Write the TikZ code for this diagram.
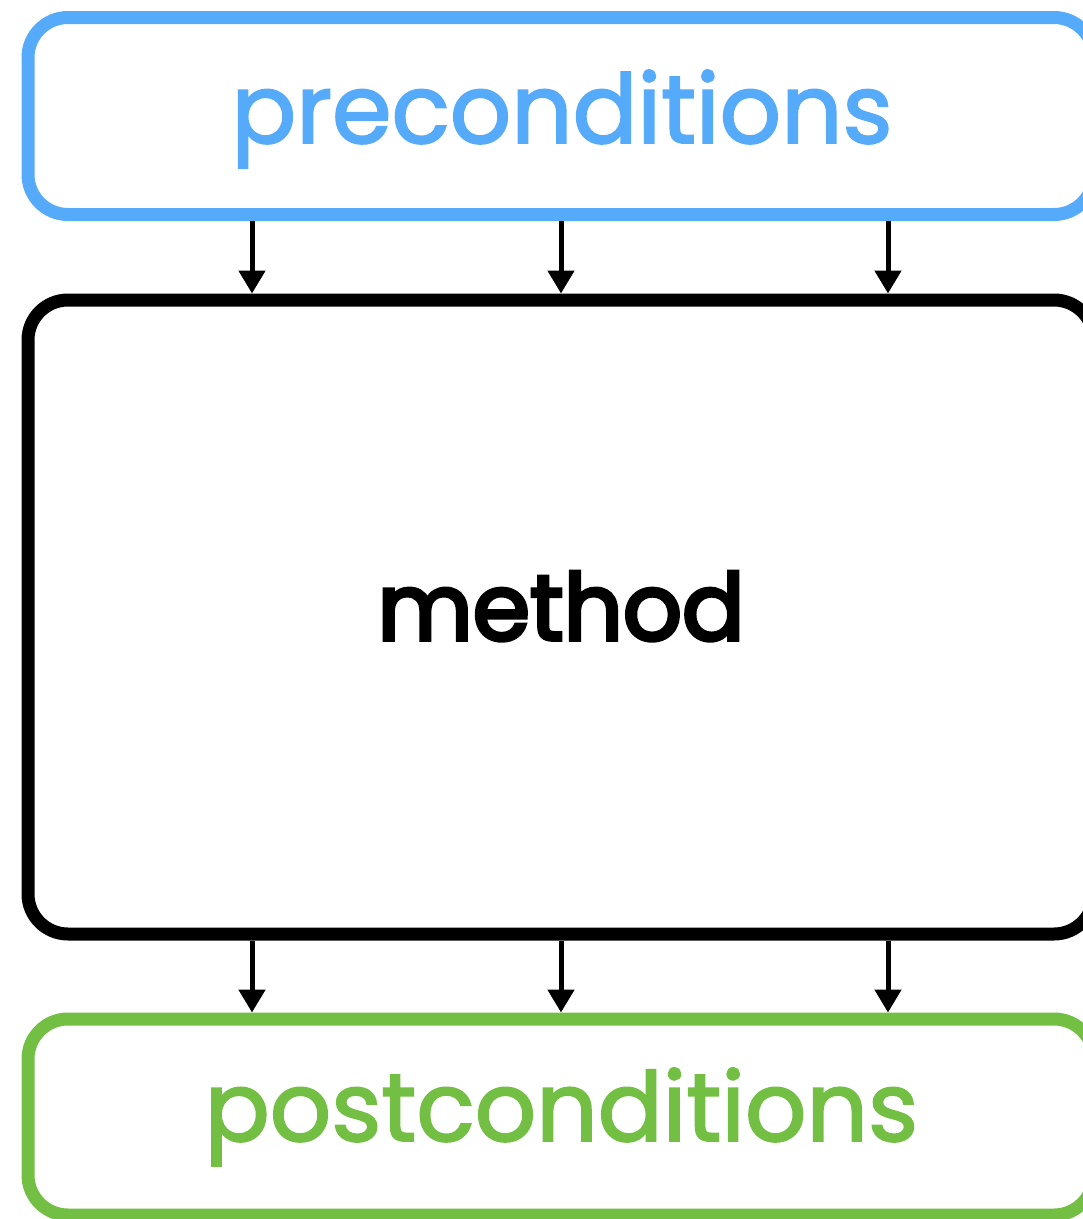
\documentclass[tikz,border=0pt]{standalone}
\usepackage{fontspec}
\setmainfont{Poppins}
\newfontfamily\labfont[FakeBold=2]{Poppins}
\newfontfamily\methfont[FakeBold=4]{Poppins}
\usetikzlibrary{arrows.meta}
\definecolor{preblue}{RGB}{85,170,250}
\definecolor{postgreen}{RGB}{114,191,68}
\begin{document}
\begin{tikzpicture}[x=1pt,y=-1pt,
  boxstyle/.style={draw, line width=13pt, rounded corners=40pt, minimum width=1066pt, inner sep=0pt, fill=white},
  flow/.style={line width=5pt, -{Triangle[width=26pt,length=23pt]}},
  lbl/.style={anchor=base, inner sep=0pt}]
\useasboundingbox (0,0) rectangle (1083,1219);
\fill[white] (0,0) rectangle (1083,1219);
\clip (0,0) rectangle (1083,1219);
% boxes
\node[boxstyle, draw=preblue, minimum height=197pt] (pre) at (561,116) {};
\node[boxstyle, draw=black, minimum height=634pt] (meth) at (561,617) {};
\node[boxstyle, draw=postgreen, minimum height=196pt] (post) at (561,1117) {};
% labels
\node[lbl, text=preblue] (pretxt) at (562,143) {\resizebox{661pt}{!}{\labfont preconditions}};
\node[lbl, text=black] (methtxt) at (561,640) {\resizebox{367pt}{!}{\methfont method}};
\node[lbl, text=postgreen] (posttxt) at (561.5,1141) {\resizebox{713pt}{!}{\labfont postconditions}};
% arrow columns
\coordinate (c1) at (252,0);
\coordinate (c2) at (561,0);
\coordinate (c3) at (888,0);
\foreach \c in {c1,c2,c3}{
  \draw[flow] (pre.south -| \c) -- (meth.north -| \c);
  \draw[flow] (meth.south -| \c) -- (post.north -| \c);
}
\end{tikzpicture}
\end{document}
